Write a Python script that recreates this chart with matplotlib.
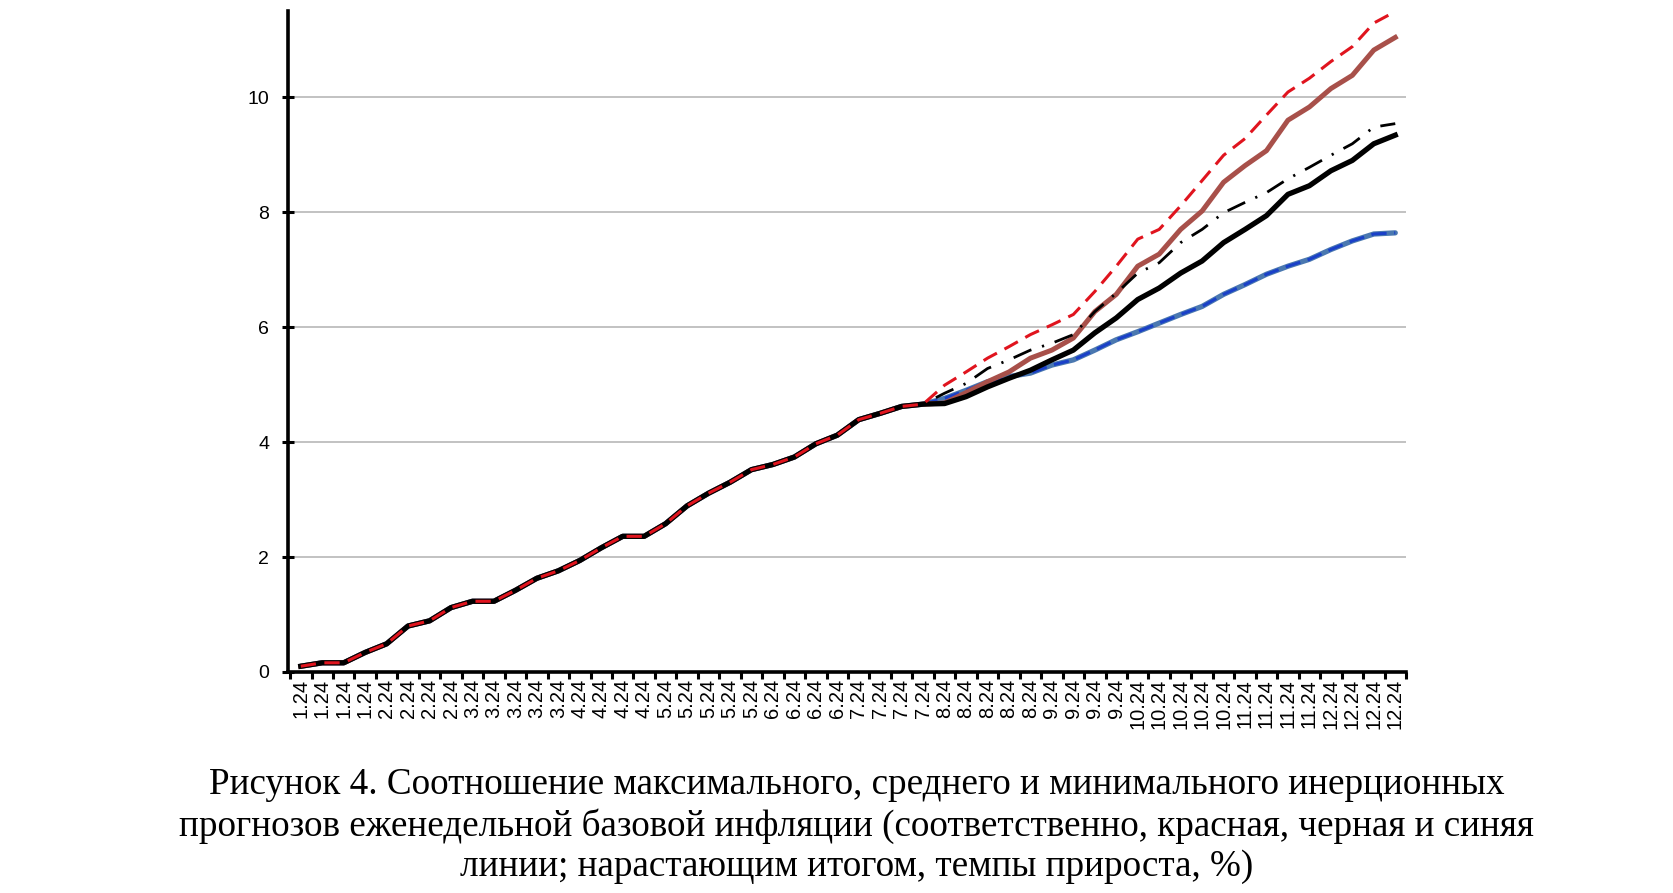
import matplotlib
matplotlib.use("Agg")
import matplotlib.pyplot as plt
import numpy as np

plt.rcParams['font.family'] = ['Liberation Sans', 'DejaVu Sans']

# weekly labels (month.year)
labels = (["1.24"] * 4 + ["2.24"] * 4 + ["3.24"] * 5 + ["4.24"] * 4 + ["5.24"] * 5 +
          ["6.24"] * 4 + ["7.24"] * 4 + ["8.24"] * 5 + ["9.24"] * 4 + ["10.24"] * 5 +
          ["11.24"] * 4 + ["12.24"] * 4)

# actual cumulative inflation up to week 30 (shared by all lines)
history = [0.10, 0.16, 0.16, 0.34, 0.49, 0.80, 0.89, 1.12, 1.23, 1.23,
           1.42, 1.63, 1.76, 1.94, 2.16, 2.36, 2.36, 2.58, 2.89, 3.11,
           3.30, 3.52, 3.61, 3.74, 3.97, 4.12, 4.39, 4.50, 4.62, 4.66]

# forecasts from week 31 on
red_max = [4.99, 5.22, 5.46, 5.66, 5.87, 6.04, 6.22, 6.62, 7.06, 7.53, 7.70,
           8.11, 8.55, 8.99, 9.28, 9.69, 10.09, 10.33, 10.62, 10.88, 11.29, 11.49]
brown = [4.68, 4.86, 5.05, 5.22, 5.46, 5.60, 5.81, 6.27, 6.57, 7.06, 7.27,
         7.70, 8.02, 8.52, 8.81, 9.07, 9.60, 9.83, 10.15, 10.38, 10.82, 11.04]
black_dashdot = [4.85, 5.02, 5.28, 5.43, 5.60, 5.72, 5.87, 6.27, 6.59, 6.94, 7.12,
                 7.47, 7.70, 7.99, 8.17, 8.34, 8.58, 8.78, 8.99, 9.19, 9.48, 9.54]
black_mean = [4.67, 4.79, 4.96, 5.11, 5.25, 5.43, 5.60, 5.90, 6.16, 6.48, 6.68,
              6.94, 7.15, 7.47, 7.70, 7.94, 8.31, 8.46, 8.72, 8.90, 9.19, 9.34]
blue_min = [4.76, 4.90, 5.05, 5.14, 5.20, 5.34, 5.43, 5.60, 5.78, 5.92, 6.07,
            6.22, 6.36, 6.57, 6.74, 6.92, 7.06, 7.18, 7.35, 7.50, 7.62, 7.64]

x = np.arange(len(labels))

fig = plt.figure(figsize=(16.73, 8.93), dpi=100)
ax = fig.add_axes([0.1721, 0.2475, 0.6683, 0.7402])

ax.plot(x, history + blue_min, color="#4a78b0", lw=3.8, solid_capstyle="round", zorder=2)
ax.plot(x, history + blue_min, color="#1a40c8", lw=2.2, dashes=(5, 2.5), zorder=3)
ax.plot(x, history + brown, color="#a8504a", lw=3.6, zorder=4)
ax.plot(x, history + black_dashdot, color="black", lw=2.0, dashes=(7, 4, 0.8, 4), zorder=5)
ax.plot(x, history + black_mean, color="black", lw=3.8, zorder=6)
ax.plot(x, history + red_max, color="#e0141e", lw=2.2, dashes=(5, 2.8), zorder=7)

ax.set_xlim(-0.6, len(labels) - 0.5)
ax.set_ylim(0, 11.5)

ax.set_yticks(np.arange(0, 11, 2))
ax.grid(axis="y", color="#bdbdbd", lw=1.3)
ax.set_axisbelow(True)
ax.tick_params(axis="y", direction="inout", length=9, width=2.2, labelsize=14, pad=9)

ax.set_xticks(x)
ax.set_xticklabels(labels, rotation=90, fontsize=14.5)
ax.set_xticks(np.arange(-0.5, len(labels), 1), minor=True)
ax.tick_params(axis="x", which="major", length=0, pad=5)
ax.tick_params(axis="x", which="minor", direction="out", length=5, width=2.2)

for s in ["top", "right"]:
    ax.spines[s].set_visible(False)
for s in ["left", "bottom"]:
    ax.spines[s].set_linewidth(2.6)

caption = ("Рисунок 4. Соотношение максимального, среднего и минимального инерционных\n"
           "прогнозов еженедельной базовой инфляции (соответственно, красная, черная и синяя\n"
           "линии; нарастающим итогом, темпы прироста, %)")
fig.text(0.512, 0.075, caption, ha="center", va="center", fontsize=26.7,
         family=["Liberation Serif", "DejaVu Serif"], linespacing=1.22)

fig.savefig("out.png", dpi=100)
